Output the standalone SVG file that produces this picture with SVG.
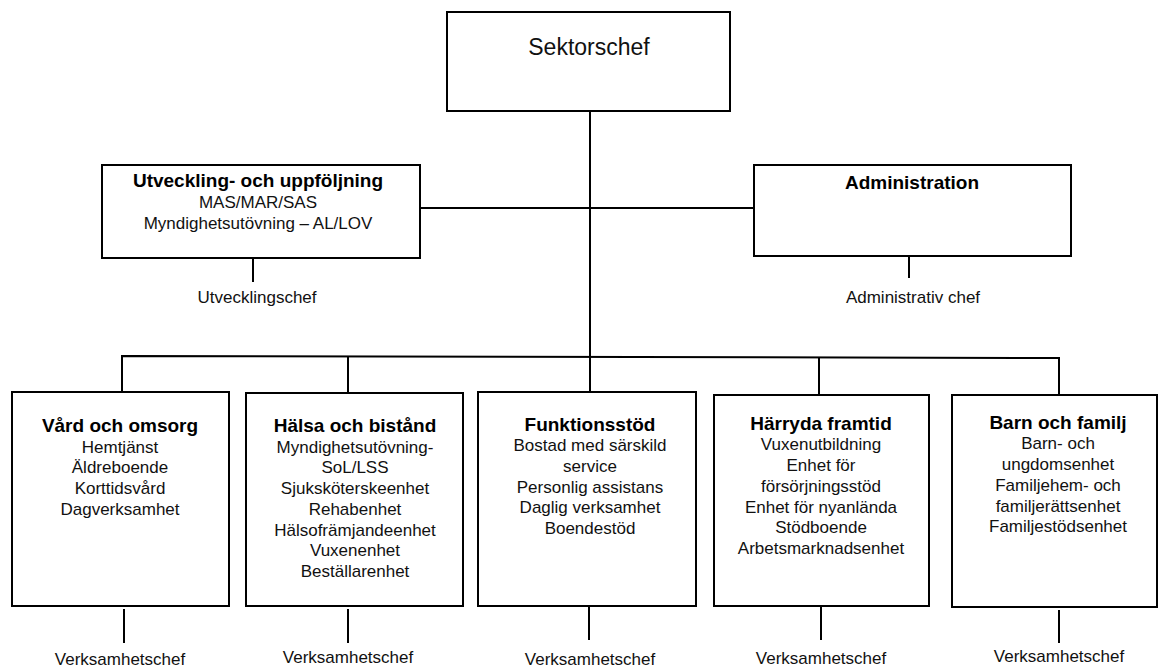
<svg xmlns="http://www.w3.org/2000/svg" width="1160" height="668" viewBox="0 0 1160 668">
<style>
.box{fill:#fff;stroke:#000;stroke-width:2}
.ln{stroke:#000;stroke-width:2;fill:none}
text{font-family:"Liberation Sans",Arial,sans-serif;text-anchor:middle;fill:#111}
.t{font-weight:bold;font-size:19px;fill:#000}
.b{font-size:17px}
.top{font-size:23px}
</style>
<rect width="1160" height="668" fill="#fff"/>
<g id="connectors">
<line class="ln" x1="590" y1="111" x2="590" y2="357"/>
<line class="ln" x1="420" y1="208" x2="754" y2="208"/>
<line class="ln" x1="253" y1="258" x2="253" y2="282"/>
<line class="ln" x1="909" y1="256" x2="909" y2="278"/>
<polyline class="ln" points="122,392 122,356 1059,358 1059,395"/>
<line class="ln" x1="348" y1="356" x2="348" y2="393"/>
<line class="ln" x1="819" y1="358" x2="819" y2="395"/>
<line class="ln" x1="590" y1="357" x2="590" y2="392"/>
<line class="ln" x1="124" y1="609" x2="124" y2="643"/>
<line class="ln" x1="348" y1="609" x2="348" y2="643"/>
<line class="ln" x1="589" y1="607" x2="589" y2="640"/>
<line class="ln" x1="821" y1="607" x2="821" y2="640"/>
<line class="ln" x1="1059" y1="610" x2="1059" y2="643"/>
</g>
<g id="sektorschef">
<rect class="box" x="447" y="12" width="283" height="99"/>
<text class="top" x="589" y="55">Sektorschef</text>
</g>
<g id="utveckling">
<rect class="box" x="102" y="165" width="318" height="93"/>
<text class="t" x="258" y="187">Utveckling- och uppföljning</text>
<text class="b" x="258" y="208">MAS/MAR/SAS</text>
<text class="b" x="258" y="229">Myndighetsutövning – AL/LOV</text>
<text class="b" x="257" y="303">Utvecklingschef</text>
</g>
<g id="administration">
<rect class="box" x="754" y="165" width="317" height="91"/>
<text class="t" x="912" y="189">Administration</text>
<text class="b" x="913" y="303">Administrativ chef</text>
</g>
<g id="vard">
<rect class="box" x="12" y="392" width="217" height="214"/>
<text class="t" x="120" y="432">Vård och omsorg</text>
<text class="b" x="120" y="453">Hemtjänst</text>
<text class="b" x="120" y="473">Äldreboende</text>
<text class="b" x="120" y="494">Korttidsvård</text>
<text class="b" x="120" y="515">Dagverksamhet</text>
<text class="b" x="120" y="665">Verksamhetschef</text>
</g>
<g id="halsa">
<rect class="box" x="246" y="393" width="217" height="213"/>
<text class="t" x="355" y="432">Hälsa och bistånd</text>
<text class="b" x="355" y="453">Myndighetsutövning-</text>
<text class="b" x="355" y="473">SoL/LSS</text>
<text class="b" x="355" y="494">Sjuksköterskeenhet</text>
<text class="b" x="355" y="515">Rehabenhet</text>
<text class="b" x="355" y="536">Hälsofrämjandeenhet</text>
<text class="b" x="355" y="556">Vuxenenhet</text>
<text class="b" x="355" y="577">Beställarenhet</text>
<text class="b" x="348" y="663">Verksamhetschef</text>
</g>
<g id="funktion">
<rect class="box" x="478" y="392" width="218" height="214"/>
<text class="t" x="590" y="431">Funktionsstöd</text>
<text class="b" x="590" y="451">Bostad med särskild</text>
<text class="b" x="590" y="472">service</text>
<text class="b" x="590" y="493">Personlig assistans</text>
<text class="b" x="590" y="513">Daglig verksamhet</text>
<text class="b" x="590" y="534">Boendestöd</text>
<text class="b" x="590" y="665">Verksamhetschef</text>
</g>
<g id="harryda">
<rect class="box" x="714" y="395" width="215" height="211"/>
<text class="t" x="821" y="430">Härryda framtid</text>
<text class="b" x="821" y="450">Vuxenutbildning</text>
<text class="b" x="821" y="471">Enhet för</text>
<text class="b" x="821" y="492">försörjningsstöd</text>
<text class="b" x="821" y="513">Enhet för nyanlända</text>
<text class="b" x="821" y="533">Stödboende</text>
<text class="b" x="821" y="554">Arbetsmarknadsenhet</text>
<text class="b" x="821" y="664">Verksamhetschef</text>
</g>
<g id="barn">
<rect class="box" x="952" y="395" width="205" height="212"/>
<text class="t" x="1058" y="429">Barn och familj</text>
<text class="b" x="1058" y="449">Barn- och</text>
<text class="b" x="1058" y="470">ungdomsenhet</text>
<text class="b" x="1058" y="491">Familjehem- och</text>
<text class="b" x="1058" y="512">familjerättsenhet</text>
<text class="b" x="1058" y="532">Familjestödsenhet</text>
<text class="b" x="1059" y="662">Verksamhetschef</text>
</g>
</svg>
